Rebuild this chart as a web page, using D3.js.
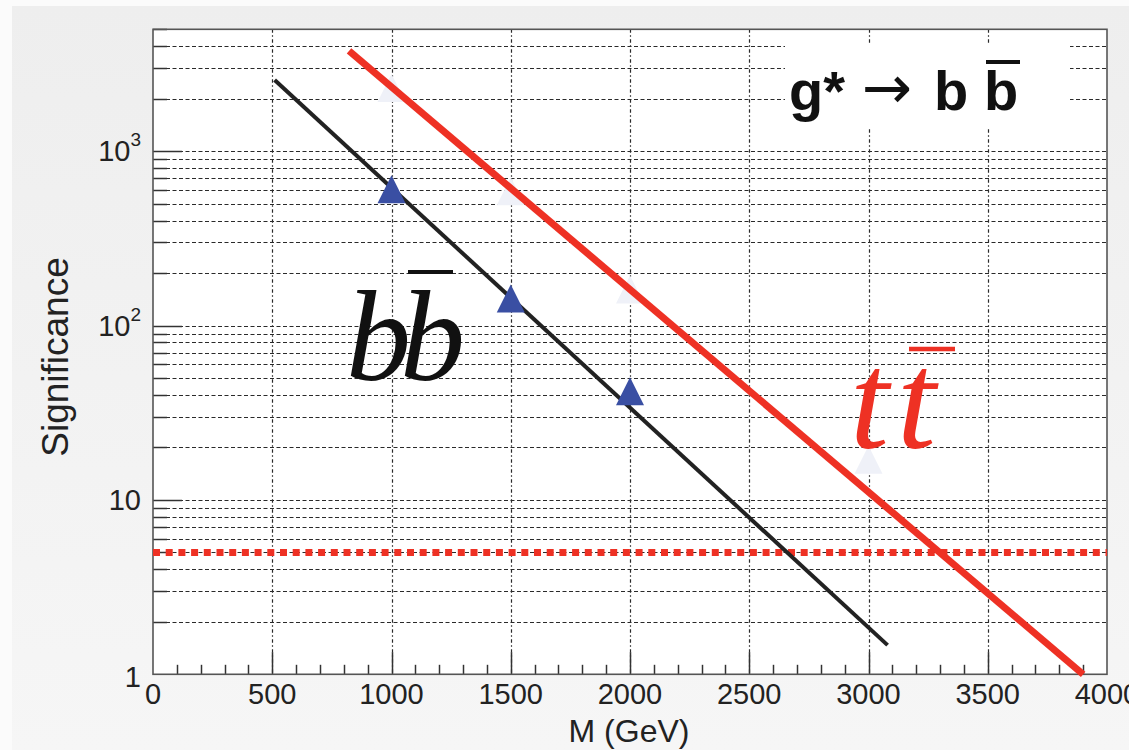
<!DOCTYPE html>
<html><head><meta charset="utf-8">
<script src="https://cdn.jsdelivr.net/npm/d3@7"></script>
<style>body{margin:0;background:#fff;}svg{display:block}</style>
</head><body>
<svg id="c" width="1129" height="750"></svg>
<script>
// ---- data ----
const massPoints = [1000, 1500, 2000];
const bbSignificance = [605, 143, 42];
const ghostMass = [1000, 1500, 2000, 3000];
const ghostSignificance = [2300, 590, 161, 17];
const bbFitMass = [510, 3080];
const bbFitSignificance = [2560, 1.47];
const ttFitMass = [822, 3900];
const ttFitSignificance = [3760, 1.0];
const discoveryLevel = [5];
const xTickValues = [0, 500, 1000, 1500, 2000, 2500, 3000, 3500, 4000];
const xTickLabels = ["0", "500", "1000", "1500", "2000", "2500", "3000", "3500", "4000"];
const yDecades = [1, 10, 100, 1000];
const yTickBase = ["1", "10", "10", "10"];
const yTickExp = ["", "", "2", "3"];
const xTitle = "M (GeV)";
const yTitle = "Significance";

// ---- layout ----
const svg = d3.select("#c");
const W = 1129, H = 750;
const L = 153, R = 1107, T = 29.3, B = 674.3;
const x = d3.scaleLinear().domain([0, 4000]).range([L, R]);
const y = d3.scaleLog().domain([1, 5000]).range([B, T]);
const red = "#ee3124", ink = "#222";
const px = v => Math.round(v) + 0.5;

const defs = svg.append("defs");
const g = defs.append("linearGradient").attr("id", "bg").attr("x1", 0).attr("y1", 0).attr("x2", 0).attr("y2", 1);
g.append("stop").attr("offset", "0").attr("stop-color", "#eeeeee");
g.append("stop").attr("offset", "1").attr("stop-color", "#f6f6f6");
svg.append("rect").attr("width", W).attr("height", H).attr("fill", "#fbfbfb");
svg.append("rect").attr("x", 12).attr("y", 6).attr("width", W - 12).attr("height", H - 6).attr("fill", "url(#bg)");

// plot area
svg.append("rect").attr("x", L).attr("y", T).attr("width", R - L).attr("height", B - T).attr("fill", "#fff");

// horizontal grid + y ticks
const yMinor = [];
yDecades.forEach(d => { for (let k = 1; k <= 9; k++) { const v = k * d; if (v > 1 && v <= 5000) yMinor.push({v, major: k === 1}); } });
const gy = svg.append("g");
gy.selectAll("line.grid").data(yMinor).join("line").attr("class", "grid")
  .attr("x1", L).attr("x2", R).attr("y1", d => px(y(d.v))).attr("y2", d => px(y(d.v)))
  .attr("stroke", "#2a2a2a").attr("stroke-width", 1.2).attr("stroke-dasharray", "4 2.5");
gy.selectAll("line.tick").data(yMinor).join("line").attr("class", "tick")
  .attr("x1", L).attr("x2", d => L + (d.major ? 29 : 14)).attr("y1", d => px(y(d.v))).attr("y2", d => px(y(d.v)))
  .attr("stroke", "#333").attr("stroke-width", 1.5);

// vertical grid + x ticks
const xGrid = xTickValues.filter(v => v > 0 && v < 4000);
svg.append("g").selectAll("line").data(xGrid).join("line")
  .attr("x1", d => px(x(d))).attr("x2", d => px(x(d))).attr("y1", T).attr("y2", B)
  .attr("stroke", "#2a2a2a").attr("stroke-width", 1.2).attr("stroke-dasharray", "3.5 2.5 1.5 2.5");
const xMinor = d3.range(100, 4000, 100);
svg.append("g").selectAll("line").data(xMinor).join("line")
  .attr("x1", d => px(x(d))).attr("x2", d => px(x(d))).attr("y1", B).attr("y2", d => B - (d % 500 === 0 ? 22 : 9.5))
  .attr("stroke", "#333").attr("stroke-width", 1.5);

// title box (white) masking grid
svg.append("rect").attr("x", 785).attr("y", 44).attr("width", 285).attr("height", 83).attr("fill", "#fff");

// frame
svg.append("rect").attr("x", L).attr("y", T).attr("width", R - L).attr("height", B - T)
  .attr("fill", "none").attr("stroke", "#555").attr("stroke-width", 1.6);

// tick labels
svg.append("g").selectAll("text").data(xTickValues).join("text")
  .attr("x", d => x(d)).attr("y", 704).attr("text-anchor", "middle")
  .attr("font-family", "Liberation Sans, Arial, sans-serif").attr("font-size", 29).attr("fill", ink)
  .text((d, i) => xTickLabels[i]);
const yl = svg.append("g").selectAll("text").data(yDecades).join("text")
  .attr("x", 141).attr("y", (d, i) => y(d) + (i === 0 ? 13 : 10)).attr("text-anchor", "end")
  .attr("font-family", "Liberation Sans, Arial, sans-serif").attr("font-size", 29).attr("fill", ink);
yl.append("tspan").text((d, i) => yTickBase[i]);
yl.append("tspan").attr("dy", -15).attr("font-size", 19).text((d, i) => yTickExp[i]);

// axis titles
svg.append("text").attr("x", 629).attr("y", 742).attr("text-anchor", "middle")
  .attr("font-family", "Liberation Sans, Arial, sans-serif").attr("font-size", 32).attr("fill", ink).text(xTitle);
svg.append("text").attr("transform", "translate(68,357) rotate(-90)").attr("text-anchor", "middle")
  .attr("font-family", "Liberation Sans, Arial, sans-serif").attr("font-size", 37).attr("fill", ink).text(yTitle);

// ghost triangles
const tri = { draw(ctx, size) { const h = Math.sqrt(size) / 2; ctx.moveTo(0, -h); ctx.lineTo(h, h); ctx.lineTo(-h, h); ctx.closePath(); } };
svg.append("g").selectAll("path").data(ghostMass).join("path")
  .attr("transform", (d, i) => `translate(${x(d)},${y(ghostSignificance[i])})`)
  .attr("d", d3.symbol().type(tri).size(28 * 28)).attr("fill", "#eff1f8");

// discovery threshold
svg.append("g").selectAll("line").data(discoveryLevel).join("line")
  .attr("x1", L).attr("x2", R).attr("y1", d => y(d)).attr("y2", d => y(d))
  .attr("stroke", red).attr("stroke-width", 7).attr("stroke-dasharray", "7 5.7");

// fit lines
const line = d3.line().x(d => x(d[0])).y(d => y(d[1]));
svg.append("path").attr("d", line(ttFitMass.map((m, i) => [m, ttFitSignificance[i]])))
  .attr("stroke", red).attr("stroke-width", 7).attr("fill", "none");
svg.append("path").attr("d", line(bbFitMass.map((m, i) => [m, bbFitSignificance[i]])))
  .attr("stroke", "#222").attr("stroke-width", 4).attr("fill", "none");

// triangles
svg.append("g").selectAll("path").data(massPoints).join("path")
  .attr("transform", (d, i) => `translate(${x(d)},${y(bbSignificance[i])})`)
  .attr("d", d3.symbol().type(tri).size(28 * 28)).attr("fill", "#3a4fa3");

// title g* -> b bbar
const tf = "Liberation Sans, Arial, sans-serif";
const title = svg.append("text").attr("y", 110).attr("font-family", tf).attr("font-weight", "bold").attr("font-size", 56).attr("fill", "#111");
title.append("tspan").attr("x", 789).text("g*");
title.append("tspan").attr("x", 862).attr("dy", -2).attr("font-family", "DejaVu Sans, sans-serif").attr("font-weight", "normal").attr("font-size", 60).text("→");
title.append("tspan").attr("x", 934).attr("dy", 2).text("b");
title.append("tspan").attr("x", 984).text("b");
svg.append("line").attr("x1", 986).attr("x2", 1020).attr("y1", 62).attr("y2", 62).attr("stroke", "#111").attr("stroke-width", 4);

// b bbar label
const sf = "Liberation Serif, Times New Roman, serif";
svg.append("text").attr("x", 346).attr("y", 380).attr("font-family", sf).attr("font-style", "italic").attr("font-size", 130).attr("fill", "#111").attr("letter-spacing", -11).text("bb");
svg.append("line").attr("x1", 408).attr("x2", 453).attr("y1", 272).attr("y2", 272).attr("stroke", "#111").attr("stroke-width", 4);

// t tbar label
svg.append("text").attr("x", 850).attr("y", 448).attr("font-family", sf).attr("font-style", "italic").attr("font-size", 140).attr("fill", red).attr("letter-spacing", 8).text("tt");
svg.append("line").attr("x1", 909).attr("x2", 955).attr("y1", 349).attr("y2", 349).attr("stroke", red).attr("stroke-width", 4.5);
</script>
</body></html>
